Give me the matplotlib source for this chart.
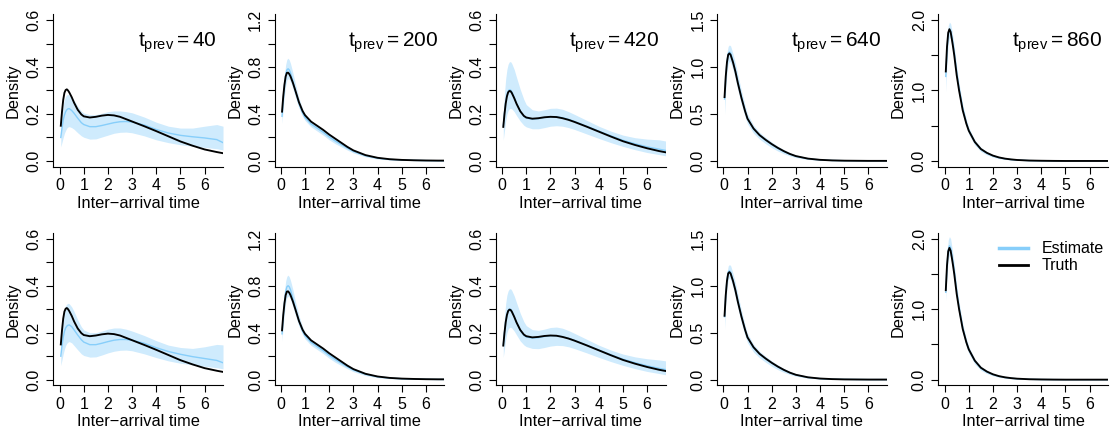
import matplotlib
matplotlib.use("Agg")
import matplotlib.pyplot as plt
from matplotlib.lines import Line2D
import numpy as np

plt.rcParams["font.family"] = ["Liberation Sans", "DejaVu Sans"]
plt.rcParams["mathtext.fontset"] = "custom"
plt.rcParams["mathtext.rm"] = "Liberation Sans"
plt.rcParams["mathtext.it"] = "Liberation Sans:italic"

x = [0.05, 0.1, 0.15, 0.2, 0.25, 0.3, 0.35, 0.4, 0.5, 0.6, 0.75, 0.9, 1.0, 1.25,
     1.5, 1.75, 2.0, 2.25, 2.5, 2.75, 3.0, 3.5, 4.0, 4.5, 5.0, 5.5, 6.0, 6.5, 6.76]

t_prev = [40, 200, 420, 640, 860]
y_max = [0.6, 1.2, 0.6, 1.5, 2.0]
y_ticks = [0.1, 0.2, 0.1, 0.5, 0.5]
y_label_step = [0.2, 0.4, 0.2, 0.5, 1.0]

# truth (same in both rows)
truth_40 = [0.15, 0.21, 0.26, 0.29, 0.302, 0.305, 0.30, 0.292, 0.272, 0.248, 0.218, 0.198, 0.19, 0.185,
            0.188, 0.193, 0.196, 0.194, 0.188, 0.178, 0.168, 0.148, 0.127, 0.105, 0.083, 0.065, 0.049, 0.038, 0.033]
truth_200 = [0.42, 0.55, 0.65, 0.72, 0.75, 0.752, 0.74, 0.72, 0.665, 0.6, 0.5, 0.425, 0.39, 0.335,
             0.30, 0.265, 0.225, 0.19, 0.155, 0.12, 0.09, 0.05, 0.027, 0.015, 0.009, 0.006, 0.004, 0.003, 0.003]
truth_420 = [0.145, 0.2, 0.245, 0.275, 0.292, 0.298, 0.297, 0.29, 0.268, 0.243, 0.212, 0.192, 0.185, 0.18,
             0.182, 0.186, 0.188, 0.187, 0.182, 0.175, 0.166, 0.146, 0.125, 0.104, 0.084, 0.068, 0.054, 0.042, 0.037]
truth_640 = [0.68, 0.9, 1.05, 1.13, 1.145, 1.13, 1.09, 1.05, 0.95, 0.83, 0.67, 0.53, 0.45, 0.345,
             0.275, 0.225, 0.18, 0.14, 0.105, 0.075, 0.052, 0.025, 0.012, 0.006, 0.003, 0.002, 0.001, 0.001, 0.001]
truth_860 = [1.27, 1.62, 1.82, 1.87, 1.83, 1.73, 1.62, 1.5, 1.22, 1.0, 0.72, 0.53, 0.43, 0.27,
             0.17, 0.115, 0.076, 0.05, 0.033, 0.022, 0.014, 0.006, 0.003, 0.001, 0.0, 0.0, 0.0, 0.0, 0.0]

# top row estimates and bands
est_40_a = [0.10, 0.14, 0.175, 0.195, 0.21, 0.218, 0.222, 0.223, 0.215, 0.203, 0.182, 0.163, 0.155, 0.146,
            0.146, 0.151, 0.157, 0.163, 0.167, 0.168, 0.166, 0.153, 0.134, 0.119, 0.109, 0.103, 0.098, 0.091, 0.078]
hi_40_a = [0.145, 0.2, 0.24, 0.262, 0.275, 0.282, 0.283, 0.28, 0.27, 0.258, 0.232, 0.212, 0.204, 0.197,
           0.197, 0.203, 0.21, 0.213, 0.213, 0.21, 0.205, 0.187, 0.165, 0.148, 0.14, 0.14, 0.148, 0.155, 0.148]
lo_40_a = [0.06, 0.08, 0.1, 0.118, 0.13, 0.14, 0.145, 0.146, 0.142, 0.135, 0.12, 0.107, 0.101, 0.093,
           0.094, 0.102, 0.11, 0.118, 0.122, 0.123, 0.12, 0.107, 0.09, 0.078, 0.069, 0.063, 0.058, 0.052, 0.047]

est_200_a = [0.38, 0.52, 0.64, 0.73, 0.775, 0.785, 0.775, 0.75, 0.68, 0.6, 0.49, 0.41, 0.37, 0.315,
             0.28, 0.245, 0.205, 0.17, 0.14, 0.11, 0.082, 0.045, 0.024, 0.013, 0.008, 0.005, 0.003, 0.002, 0.002]
hi_200_a = [0.43, 0.6, 0.73, 0.82, 0.865, 0.875, 0.86, 0.83, 0.75, 0.66, 0.535, 0.445, 0.40, 0.34,
            0.305, 0.27, 0.232, 0.196, 0.162, 0.128, 0.098, 0.056, 0.031, 0.018, 0.011, 0.007, 0.005, 0.004, 0.004]
lo_200_a = [0.32, 0.45, 0.56, 0.64, 0.69, 0.70, 0.695, 0.675, 0.615, 0.545, 0.45, 0.38, 0.345, 0.29,
            0.255, 0.22, 0.18, 0.147, 0.12, 0.093, 0.068, 0.035, 0.017, 0.009, 0.005, 0.003, 0.002, 0.001, 0.001]

est_420_a = [0.15, 0.205, 0.25, 0.28, 0.297, 0.303, 0.302, 0.295, 0.272, 0.245, 0.212, 0.19, 0.183, 0.178,
             0.18, 0.185, 0.188, 0.188, 0.184, 0.177, 0.168, 0.148, 0.127, 0.107, 0.088, 0.073, 0.06, 0.05, 0.045]
hi_420_a = [0.2, 0.29, 0.35, 0.39, 0.412, 0.422, 0.423, 0.415, 0.39, 0.355, 0.305, 0.262, 0.24, 0.218,
            0.213, 0.218, 0.224, 0.225, 0.22, 0.21, 0.198, 0.173, 0.148, 0.127, 0.11, 0.099, 0.093, 0.09, 0.085]
lo_420_a = [0.09, 0.13, 0.17, 0.2, 0.215, 0.222, 0.224, 0.222, 0.21, 0.193, 0.17, 0.152, 0.145, 0.137,
            0.137, 0.142, 0.148, 0.15, 0.148, 0.142, 0.134, 0.115, 0.096, 0.078, 0.062, 0.048, 0.036, 0.027, 0.022]

est_640_a = [0.66, 0.9, 1.06, 1.14, 1.16, 1.15, 1.11, 1.065, 0.965, 0.845, 0.68, 0.535, 0.45, 0.34,
             0.27, 0.22, 0.175, 0.135, 0.1, 0.072, 0.05, 0.024, 0.011, 0.005, 0.003, 0.002, 0.001, 0.001, 0.001]
hi_640_a = [0.72, 0.98, 1.15, 1.22, 1.235, 1.225, 1.185, 1.14, 1.04, 0.92, 0.745, 0.59, 0.5, 0.38,
            0.305, 0.25, 0.202, 0.158, 0.12, 0.088, 0.062, 0.031, 0.015, 0.007, 0.004, 0.002, 0.001, 0.001, 0.001]
lo_640_a = [0.5, 0.76, 0.94, 1.03, 1.06, 1.05, 1.01, 0.97, 0.87, 0.755, 0.6, 0.47, 0.395, 0.295,
            0.232, 0.184, 0.142, 0.106, 0.077, 0.054, 0.036, 0.016, 0.007, 0.003, 0.002, 0.001, 0.0, 0.0, 0.0]

est_860_a = [1.2, 1.58, 1.8, 1.87, 1.85, 1.76, 1.655, 1.54, 1.26, 1.03, 0.745, 0.545, 0.437, 0.268,
             0.166, 0.11, 0.072, 0.047, 0.031, 0.02, 0.013, 0.005, 0.002, 0.001, 0.0, 0.0, 0.0, 0.0, 0.0]
hi_860_a = [1.3, 1.7, 1.92, 1.97, 1.95, 1.86, 1.75, 1.63, 1.34, 1.1, 0.8, 0.59, 0.475, 0.3,
            0.192, 0.13, 0.087, 0.058, 0.039, 0.026, 0.017, 0.007, 0.003, 0.001, 0.0, 0.0, 0.0, 0.0, 0.0]
lo_860_a = [0.98, 1.4, 1.66, 1.75, 1.74, 1.65, 1.54, 1.42, 1.15, 0.93, 0.665, 0.48, 0.38, 0.225,
            0.134, 0.086, 0.054, 0.034, 0.022, 0.013, 0.008, 0.003, 0.001, 0.0, 0.0, 0.0, 0.0, 0.0, 0.0]

# bottom row estimates and bands
est_40_b = [0.10, 0.145, 0.18, 0.205, 0.22, 0.228, 0.232, 0.233, 0.226, 0.212, 0.19, 0.17, 0.16, 0.149,
            0.149, 0.155, 0.162, 0.168, 0.171, 0.171, 0.168, 0.155, 0.136, 0.12, 0.108, 0.098, 0.09, 0.082, 0.072]
hi_40_b = [0.15, 0.22, 0.27, 0.3, 0.315, 0.322, 0.325, 0.323, 0.31, 0.29, 0.255, 0.225, 0.212, 0.2,
           0.2, 0.207, 0.215, 0.22, 0.22, 0.215, 0.207, 0.188, 0.166, 0.147, 0.137, 0.133, 0.14, 0.15, 0.148]
lo_40_b = [0.06, 0.085, 0.11, 0.13, 0.145, 0.155, 0.16, 0.162, 0.157, 0.145, 0.127, 0.11, 0.103, 0.096,
           0.097, 0.105, 0.114, 0.121, 0.125, 0.126, 0.123, 0.11, 0.094, 0.08, 0.07, 0.063, 0.057, 0.051, 0.046]

est_200_b = [0.39, 0.54, 0.66, 0.75, 0.79, 0.80, 0.79, 0.765, 0.69, 0.61, 0.5, 0.415, 0.375, 0.318,
             0.282, 0.247, 0.207, 0.172, 0.14, 0.11, 0.083, 0.046, 0.025, 0.014, 0.008, 0.005, 0.003, 0.002, 0.002]
hi_200_b = [0.44, 0.62, 0.75, 0.84, 0.88, 0.89, 0.875, 0.845, 0.765, 0.67, 0.545, 0.45, 0.405, 0.343,
            0.307, 0.272, 0.234, 0.198, 0.163, 0.129, 0.099, 0.057, 0.032, 0.018, 0.011, 0.007, 0.005, 0.004, 0.004]
lo_200_b = [0.33, 0.46, 0.57, 0.655, 0.70, 0.71, 0.705, 0.685, 0.62, 0.55, 0.455, 0.383, 0.347, 0.292,
            0.257, 0.222, 0.182, 0.148, 0.12, 0.093, 0.068, 0.035, 0.017, 0.009, 0.005, 0.003, 0.002, 0.001, 0.001]

est_420_b = [0.148, 0.202, 0.247, 0.277, 0.294, 0.301, 0.30, 0.293, 0.27, 0.243, 0.21, 0.189, 0.182, 0.177,
             0.179, 0.184, 0.187, 0.187, 0.183, 0.176, 0.167, 0.147, 0.126, 0.106, 0.087, 0.072, 0.059, 0.048, 0.043]
hi_420_b = [0.19, 0.27, 0.325, 0.36, 0.378, 0.386, 0.387, 0.38, 0.357, 0.327, 0.283, 0.247, 0.23, 0.213,
            0.21, 0.215, 0.222, 0.224, 0.219, 0.209, 0.197, 0.172, 0.147, 0.126, 0.109, 0.097, 0.089, 0.084, 0.08]
lo_420_b = [0.095, 0.135, 0.172, 0.2, 0.215, 0.222, 0.223, 0.22, 0.207, 0.19, 0.165, 0.148, 0.141, 0.133,
            0.132, 0.137, 0.143, 0.146, 0.145, 0.14, 0.132, 0.114, 0.095, 0.077, 0.061, 0.047, 0.035, 0.026, 0.021]

est_640_b = [0.67, 0.91, 1.065, 1.145, 1.16, 1.145, 1.105, 1.06, 0.96, 0.84, 0.675, 0.53, 0.447, 0.338,
             0.27, 0.22, 0.176, 0.136, 0.101, 0.073, 0.051, 0.024, 0.011, 0.005, 0.003, 0.002, 0.001, 0.001, 0.001]
hi_640_b = [0.72, 0.97, 1.13, 1.21, 1.225, 1.215, 1.175, 1.13, 1.03, 0.91, 0.735, 0.58, 0.492, 0.375,
            0.302, 0.248, 0.2, 0.157, 0.119, 0.087, 0.062, 0.031, 0.015, 0.007, 0.004, 0.002, 0.001, 0.001, 0.001]
lo_640_b = [0.54, 0.8, 0.97, 1.06, 1.085, 1.065, 1.025, 0.98, 0.875, 0.76, 0.6, 0.468, 0.393, 0.293,
            0.232, 0.185, 0.143, 0.107, 0.078, 0.055, 0.037, 0.016, 0.007, 0.003, 0.002, 0.001, 0.0, 0.0, 0.0]

est_860_b = [1.24, 1.62, 1.84, 1.9, 1.87, 1.77, 1.66, 1.54, 1.255, 1.02, 0.735, 0.538, 0.432, 0.265,
             0.165, 0.109, 0.072, 0.047, 0.031, 0.02, 0.013, 0.005, 0.002, 0.001, 0.0, 0.0, 0.0, 0.0, 0.0]
hi_860_b = [1.35, 1.76, 1.98, 2.03, 2.0, 1.89, 1.77, 1.64, 1.34, 1.1, 0.795, 0.585, 0.47, 0.295,
            0.19, 0.128, 0.086, 0.057, 0.038, 0.025, 0.017, 0.007, 0.003, 0.001, 0.0, 0.0, 0.0, 0.0, 0.0]
lo_860_b = [1.12, 1.48, 1.7, 1.77, 1.75, 1.66, 1.54, 1.42, 1.14, 0.92, 0.655, 0.47, 0.375, 0.222,
            0.133, 0.086, 0.055, 0.035, 0.023, 0.014, 0.008, 0.003, 0.001, 0.0, 0.0, 0.0, 0.0, 0.0, 0.0]

truths = [truth_40, truth_200, truth_420, truth_640, truth_860]
rows = [
    [(est_40_a, lo_40_a, hi_40_a), (est_200_a, lo_200_a, hi_200_a), (est_420_a, lo_420_a, hi_420_a),
     (est_640_a, lo_640_a, hi_640_a), (est_860_a, lo_860_a, hi_860_a)],
    [(est_40_b, lo_40_b, hi_40_b), (est_200_b, lo_200_b, hi_200_b), (est_420_b, lo_420_b, hi_420_b),
     (est_640_b, lo_640_b, hi_640_b), (est_860_b, lo_860_b, hi_860_b)],
]

BAND = "#CFEBFD"
EST = "#87CEFA"
W, H = 1113, 434

fig = plt.figure(figsize=(W / 100, H / 100), dpi=100)

for r in range(2):
    top_px = 14.4 + r * 218.7
    for c in range(5):
        left_px = 53.3 + c * 221.25
        ax = fig.add_axes([left_px / W, 1 - (top_px + 152.2) / H, 169.7 / W, 152.2 / H])
        est, lo, hi = rows[r][c]
        ax.fill_between(x, lo, hi, color=BAND, lw=0)
        ax.plot(x, est, color=EST, lw=1.0)
        ax.plot(x, truths[c], color="black", lw=1.35)

        ym = y_max[c]
        ax.set_xlim(-0.26, 6.76)
        ax.set_ylim(-0.04 * ym, 1.04 * ym)
        ticks = np.arange(0, ym + 1e-9, y_ticks[c])
        ax.set_yticks(ticks)
        labels = []
        for t in ticks:
            k = t / y_label_step[c]
            labels.append(f"{t:.1f}" if abs(k - round(k)) < 1e-6 else "")
        ax.set_yticklabels(labels, rotation=90, va="center")
        ax.set_xticks(range(7))
        for side in ("top", "right"):
            ax.spines[side].set_visible(False)
        for side in ("left", "bottom"):
            ax.spines[side].set_linewidth(0.8)
        ax.tick_params(length=4.8, width=0.8, labelsize=11.5, pad=3.5, direction="out")
        ax.set_xlabel("Inter\u2212arrival time", fontsize=11.8)
        ax.xaxis.set_label_coords(0.5, -0.19)
        ax.set_ylabel("Density", fontsize=11.8)
        ax.yaxis.set_label_coords(-0.19, 0.5)

        if r == 0:
            ax.text(0.965, 0.785, r"$\mathrm{t_{prev}=%d}$" % t_prev[c], transform=ax.transAxes,
                    ha="right", va="baseline", fontsize=15)
        if r == 1 and c == 4:
            handles = [Line2D([], [], color=EST, lw=2.5), Line2D([], [], color="black", lw=2.0)]
            ax.legend(handles, ["Estimate", "Truth"], loc="upper right", bbox_to_anchor=(0.975, 0.945),
                      frameon=False, fontsize=11.5, borderaxespad=0, borderpad=0,
                      handlelength=1.8, handletextpad=0.85, labelspacing=0.12)

fig.savefig("out.png", dpi=100)
